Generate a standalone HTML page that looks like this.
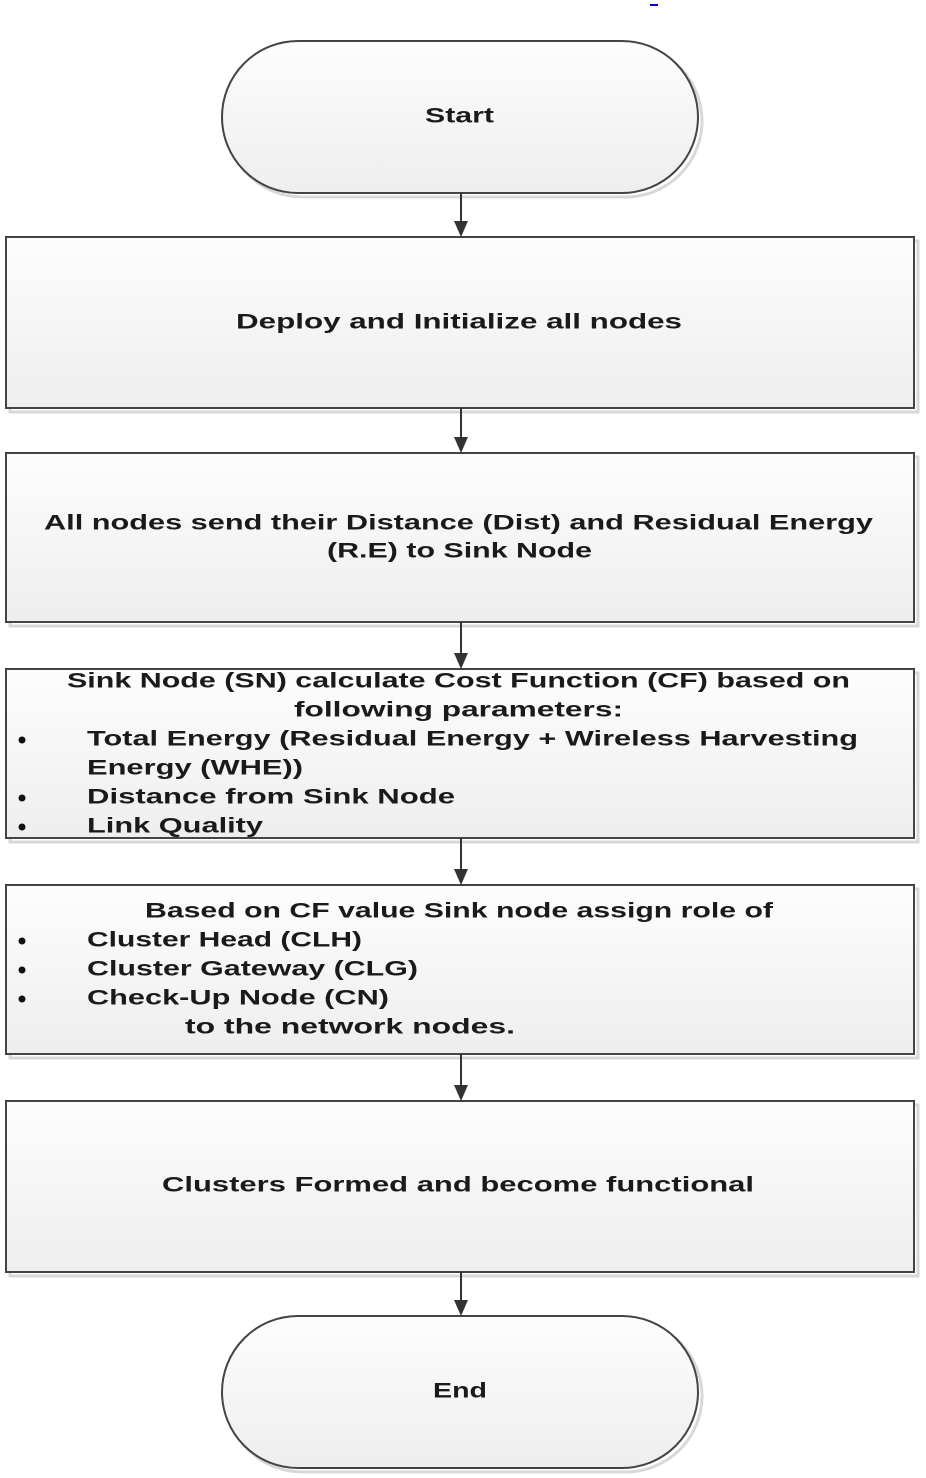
<!DOCTYPE html>
<html><head><meta charset="utf-8"><style>html,body{margin:0;padding:0;background:#fff}svg{display:block}</style></head>
<body>
<svg width="926" height="1478" viewBox="0 0 926 1478" xmlns="http://www.w3.org/2000/svg" font-family="Liberation Sans, sans-serif" font-weight="bold" font-size="21" fill="#1a1a1a">
<defs>
<linearGradient id="g" x1="0" y1="0" x2="0" y2="1"><stop offset="0" stop-color="#fdfdfd"/><stop offset="1" stop-color="#eeeeee"/></linearGradient>
</defs>
<rect x="650" y="4" width="8" height="2" fill="#00c"/>
<g stroke="#d8d8d8" stroke-width="3" fill="none">
<rect x="226" y="45" width="476" height="152" rx="76"/>
<rect x="226" y="1320" width="476" height="152" rx="76"/>
<rect x="10" y="241" width="908" height="171"/>
<rect x="10" y="457" width="908" height="169"/>
<rect x="10" y="673" width="908" height="169"/>
<rect x="10" y="889" width="908" height="169"/>
<rect x="10" y="1105" width="908" height="171"/>
</g>
<g stroke="#444" stroke-width="2" fill="url(#g)">
<rect x="222" y="41" width="476" height="152" rx="76"/>
<rect x="222" y="1316" width="476" height="152" rx="76"/>
<rect x="6" y="237" width="908" height="171"/>
<rect x="6" y="453" width="908" height="169"/>
<rect x="6" y="669" width="908" height="169"/>
<rect x="6" y="885" width="908" height="169"/>
<rect x="6" y="1101" width="908" height="171"/>
</g>
<g stroke="#333" stroke-width="2">
<line x1="461" y1="193" x2="461" y2="224"/>
<line x1="461" y1="408" x2="461" y2="440"/>
<line x1="461" y1="622" x2="461" y2="656"/>
<line x1="461" y1="838" x2="461" y2="872"/>
<line x1="461" y1="1054" x2="461" y2="1088"/>
<line x1="461" y1="1272" x2="461" y2="1303"/>
</g>
<g fill="#333">
<path d="M454,221 L468,221 L461,237Z"/>
<path d="M454,437 L468,437 L461,453Z"/>
<path d="M454,653 L468,653 L461,669Z"/>
<path d="M454,869 L468,869 L461,885Z"/>
<path d="M454,1085 L468,1085 L461,1101Z"/>
<path d="M454,1300 L468,1300 L461,1316Z"/>
</g>
<g dominant-baseline="central">
<text x="425" y="116" textLength="69" lengthAdjust="spacingAndGlyphs">Start</text>
<text x="236" y="322" textLength="446" lengthAdjust="spacingAndGlyphs">Deploy and Initialize all nodes</text>
<text x="44" y="523" textLength="829" lengthAdjust="spacingAndGlyphs">All nodes send their Distance (Dist) and Residual Energy</text>
<text x="327" y="551" textLength="265" lengthAdjust="spacingAndGlyphs">(R.E) to Sink Node</text>
<text x="67" y="681" textLength="783" lengthAdjust="spacingAndGlyphs">Sink Node (SN) calculate Cost Function (CF) based on</text>
<text x="294" y="710" textLength="329" lengthAdjust="spacingAndGlyphs">following parameters:</text>
<text x="87" y="739" textLength="771" lengthAdjust="spacingAndGlyphs">Total Energy (Residual Energy + Wireless Harvesting</text>
<text x="87" y="768" textLength="216" lengthAdjust="spacingAndGlyphs">Energy (WHE))</text>
<text x="87" y="797" textLength="368" lengthAdjust="spacingAndGlyphs">Distance from Sink Node</text>
<text x="87" y="826" textLength="176" lengthAdjust="spacingAndGlyphs">Link Quality</text>
<text x="145" y="911" textLength="628" lengthAdjust="spacingAndGlyphs">Based on CF value Sink node assign role of</text>
<text x="87" y="940" textLength="275" lengthAdjust="spacingAndGlyphs">Cluster Head (CLH)</text>
<text x="87" y="969" textLength="331" lengthAdjust="spacingAndGlyphs">Cluster Gateway (CLG)</text>
<text x="87" y="998" textLength="302" lengthAdjust="spacingAndGlyphs">Check-Up Node (CN)</text>
<text x="185" y="1027" textLength="330" lengthAdjust="spacingAndGlyphs">to the network nodes.</text>
<text x="162" y="1185" textLength="592" lengthAdjust="spacingAndGlyphs">Clusters Formed and become functional</text>
<text x="433" y="1391" textLength="54" lengthAdjust="spacingAndGlyphs">End</text>
</g>
<g fill="#111">
<circle cx="22" cy="740" r="3.5"/><circle cx="22" cy="798" r="3.5"/><circle cx="22" cy="827" r="3.5"/>
<circle cx="22" cy="941" r="3.5"/><circle cx="22" cy="970" r="3.5"/><circle cx="22" cy="999" r="3.5"/>
</g>
</svg>
</body></html>
